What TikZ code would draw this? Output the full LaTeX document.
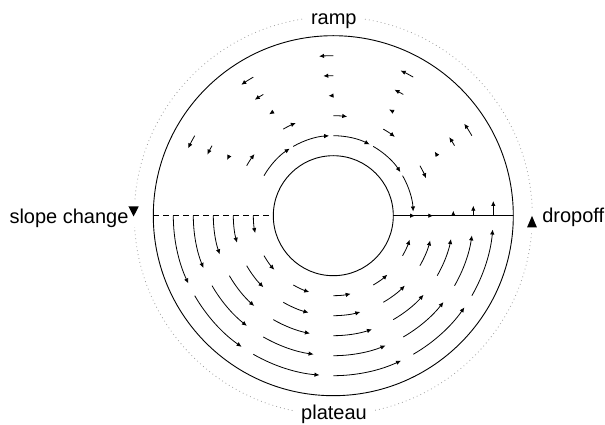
\documentclass[tikz,border=0pt]{standalone}
\usepackage{fontspec}
\setmainfont{Liberation Sans}
\usetikzlibrary{arrows.meta}
\begin{document}
\begin{tikzpicture}[x=1pt,y=1pt,
  ring/.style={line width=0.9pt},
  seam/.style={line width=0.9pt, dash pattern=on 6pt off 4pt},
  guide/.style={line width=0.8pt, gray!75, dash pattern=on 0.8pt off 3.2pt},
  flow/.style={line width=0.8pt, -{Latex[length=5pt,width=4.5pt]}},
  lbl/.style={font=\fontsize{20}{24}\selectfont, fill=white, inner xsep=6pt, inner ysep=4pt},
  side/.style={font=\fontsize{20}{24}\selectfont, inner sep=0pt},
  gap/.style={fill=white, inner sep=0pt, minimum width=12pt},
  pointer/.style={fill=black}]
\useasboundingbox (-333.3,-209.3) rectangle (271.7,215.7);

% dotted guide circle, broken by the labels
\draw[guide] (0,0) circle[radius=199];
\node[lbl, anchor=base] (ramp) at (0.5,190.7) {ramp};
\node[lbl, anchor=base] (plateau) at (0.7,-204.3) {plateau};
\node[side, anchor=base east] (slope) at (-204.6,-8.3) {slope change};
\node[side, anchor=base west] (drop) at (208.8,-7) {dropoff};
\node[gap, minimum height=26pt] (cutL) at (-199.5,1.7) {};
\node[gap, minimum height=25pt] (cutR) at (198.7,-4.8) {};
\fill[pointer] (-204.8,9.2) -- (-194.6,9.2) -- (-199.7,-0.8) -- cycle;
\fill[pointer] (193.8,-11.6) -- (203.6,-11.6) -- (198.7,-0.2) -- cycle;

% annulus
\draw[ring] (0,0) circle[radius=180];
\draw[ring] (0,0) circle[radius=60];
\draw[seam] (-180,0) -- (-60,0);
\draw[ring] (60,0) -- (180,0);

% plateau: counterclockwise flow, sweep growing with radius
\foreach \r in {80,100,...,160}{
  \pgfmathsetmacro\d{0.1565*\r}
  \foreach \a in {180,210,...,330}
    \draw[flow] (\a:\r) arc[start angle=\a, delta angle=\d, radius=\r];
}

% ramp: clockwise near the hub, counterclockwise near the rim
\foreach \r/\d in {80/-27,100/-8,120/2.3,140/4.1,160/5.1}
  \foreach \a in {30,60,...,150}
    \draw[flow] (\a:\r) arc[start angle=\a, delta angle=\d, radius=\r];

% dropoff edge
\draw[flow] (76,0) -- (81.7,0);
\draw[flow] (95,0) -- (100,0);
\draw[flow] (120,0) -- (120,5);
\draw[flow] (140,0) -- (140,10);
\draw[flow] (160,0) -- (160,14.7);
\end{tikzpicture}
\end{document}
